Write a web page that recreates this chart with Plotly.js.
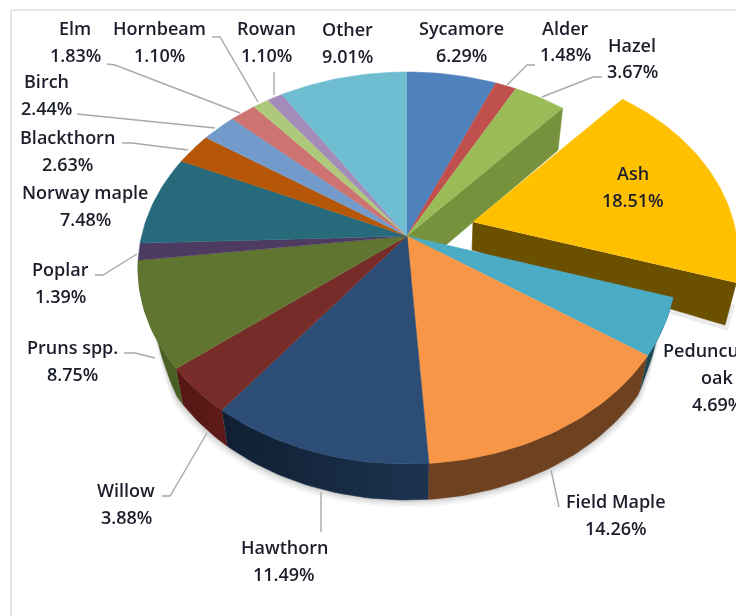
<!DOCTYPE html>
<html>
<head>
<meta charset="utf-8">
<script src="https://cdn.plot.ly/plotly-3.0.1.min.js"></script>
<style>
html,body{margin:0;padding:0;background:#fff;overflow:hidden}
#chart{width:736px;height:616px;filter:blur(0.45px)}
</style>
</head>
<body>
<div id="chart"></div>
<script>
// ---- data (clockwise from 12 o'clock) ----
const species = ["Sycamore","Alder","Hazel","Ash","Pedunculate oak","Field Maple","Hawthorn","Willow","Pruns spp.","Poplar","Norway maple","Blackthorn","Birch","Elm","Hornbeam","Rowan","Other"];
const shares  = [6.29,1.48,3.67,18.51,4.69,14.26,11.49,3.88,8.75,1.39,7.48,2.63,2.44,1.83,1.10,1.10,9.01];
const colors  = ["#4f81bd","#c0504d","#9bbb59","#ffc000","#4bacc6","#f79646","#2c4d75","#772c2a","#5f7530","#4d3b62","#276a7c","#b65708","#729aca","#cd7371","#afc97a","#a48cba","#6fbdd1"];
const rimFrom = {"Pedunculate oak":"#23596a","Field Maple":"#6e4220","Hawthorn":"#1c3350","Willow":"#5e1b19","Pruns spp.":"#4a5f24"};
const rimTo   = {"Pedunculate oak":"#173f4c","Field Maple":"#6e4220","Hawthorn":"#101f31","Willow":"#541614","Pruns spp.":"#4a5f24"};

// ---- presentation: label lines and leader routes (pixels on the 736x616 axes) ----
const labelLines = {
  "Sycamore":[461,[28,55]],"Alder":[565,[28,54]],"Hazel":[632,[45,71]],"Ash":[633,[173,200]],
  "Pedunculate oak":[717,[350,377,404]],"Field Maple":[616,[501,528]],"Hawthorn":[284,[547,574]],
  "Willow":[126,[490,517]],"Pruns spp.":[72,[347,374]],"Poplar":[60,[269,296]],
  "Norway maple":[85,[192,219]],"Blackthorn":[67,[137,164]],"Birch":[46,[81,108]],
  "Elm":[75,[28,55]],"Hornbeam":[159,[28,55]],"Rowan":[266,[28,55]],"Other":[347,[29,56]]
};
const leaders = [
  [[107,115,240],[64,65,113]],[[212,220,258],[37,37,102]],[[274,274],[72,95]],[[77,215],[114,128]],
  [[122,132,188],[143,143,150]],[[95,103,137],[275,275,254]],[[124,135,155],[353,353,358]],
  [[162,170,207],[496,496,433]],[[321,321],[492,532]],[[559,551],[507,470]],
  [[535,527,507],[65,65,85]],[[602,593,542],[77,77,97]]
];

// ---- projection of the tilted disc ----
const apex = {x:407,y:236}, ell = {cy:268,rx:269,ry:196};
const d = (ell.cy-apex.y)/ell.ry, k = Math.sqrt(1-d*d);
function rimPoint(pct){
  const t = pct/100*2*Math.PI, u = Math.sin(t), v = Math.cos(t), w = 1+d*v;
  return {x:apex.x+ell.rx*u*k/w, y:ell.cy-ell.ry*(v+d)/w};
}
function lower(p,scale,depth,cx){return {x:cx+(p.x-cx)*scale,y:p.y+depth};}
function arc(a,b){
  const n = Math.max(2,Math.ceil((b-a)*3)), out=[];
  for(let i=0;i<=n;i++) out.push(rimPoint(a+(b-a)*i/n));
  return out;
}
function poly(pts,fill,name,extra){
  return Object.assign({type:"scatter",mode:"lines",x:pts.map(p=>p.x),y:pts.map(p=>p.y),
    fill:"toself",fillcolor:fill,line:{width:0.6,color:fill},hoverinfo:"name",name:name,showlegend:false},extra||{});
}
const starts=[]; shares.reduce((s,v,i)=>{starts[i]=s;return s+v;},0);
const total = shares.reduce((a,b)=>a+b,0);
const asPct = i=>[starts[i]/total*100,(starts[i]+shares[i])/total*100];

const traces=[];
const depth=36, shrink=0.97;
// the wall only shows fully on the near side of the disc
const wall = p => depth*Math.max(0,Math.min(1,(p.y-300)/60));
const lowerRim = p => lower(p,shrink,wall(p),apex.x);

// soft shadow below the front rim
[[7,0.05],[5,0.06],[3,0.07],[1.5,0.08]].forEach(([g,al])=>{
  const [a]=asPct(4), [,b]=asPct(8);
  const outer=arc(a,b).map(p=>{const q=lowerRim(p);const w=wall(p)/depth;return {x:q.x+(q.x>apex.x?g*0.5:-g*0.5)*w,y:q.y+g*w};});
  const inner=arc(a,b).reverse();
  traces.push(poly(outer.concat(inner),"rgba(60,60,60,"+al+")","shadow",{line:{width:0}}));
});

// cut face of Hazel
{
  const i=species.indexOf("Hazel"), end=rimPoint(asPct(i)[1]);
  const low=lower(end,shrink,depth+6,apex.x);
  traces.push(poly([apex,end,low,{x:apex.x,y:apex.y+depth+6}],"#76923c","Hazel side"));
}

// Ash: pulled-out slice with its cut face
{
  const i=species.indexOf("Ash"), [a,b]=asPct(i);
  const ap={x:473,y:222};
  const n=Math.ceil((b-a)*3), ashArc=[];
  for(let j=0;j<=n;j++){
    const f=j/n, p=rimPoint(a+(b-a)*f), s=0.96+0.03*f;
    ashArc.push({x:ap.x+(p.x+66-ap.x)*s,y:ap.y+(p.y-14-ap.y)*s});
  }
  const endTop=ashArc[n];
  const endLow={x:725,y:325};
  traces.push(poly([{x:ap.x+3,y:ap.y+34},{x:endLow.x+3,y:endLow.y+6},{x:endLow.x+10,y:endLow.y-20},{x:ap.x+3,y:ap.y+4}],"rgba(60,60,60,0.10)","shadow",{line:{width:0}}));
  traces.push(poly([ap,{x:ap.x-1,y:ap.y+28},endLow,endTop],"#6b5000","Ash side"));
  traces.push(poly([ap].concat(ashArc),colors[i],species[i]));
}

// front rim
["Pedunculate oak","Field Maple","Hawthorn","Willow","Pruns spp."].forEach(n=>{
  const i=species.indexOf(n), [a,b]=asPct(i), top=arc(a,b);
  const low=top.map(lowerRim).reverse();
  traces.push(poly(top.concat(low),rimFrom[n],n+" side",{
    fillgradient:{type:"horizontal",colorscale:[[0,rimTo[n]],[1,rimFrom[n]]]}
  }));
});

// top faces
species.forEach((n,i)=>{
  if(n==="Ash") return;
  const [a,b]=asPct(i);
  traces.push(poly([apex].concat(arc(a,b)),colors[i],n));
});

// leader lines
leaders.forEach(l=>traces.push({type:"scatter",mode:"lines",x:l[0],y:l[1],
  line:{color:"#a9a9a9",width:1.4},hoverinfo:"skip",showlegend:false}));

// labels
const annotations=[];
const fontDef={family:"Open Sans, Noto Sans, sans-serif",size:18,color:"#1c1f2b",weight:600};
species.forEach((n,i)=>{
  const [x,ys]=labelLines[n];
  const pct=shares[i].toFixed(2)+"%";
  const lines = n==="Pedunculate oak" ? ["Pedunculate","oak",pct] : [n,pct];
  lines.forEach((t,j)=>annotations.push({x:x,y:ys[j],xref:"x",yref:"y",text:t,showarrow:false,
    xanchor:"center",yanchor:"middle",font:fontDef}));
});

const layout={
  width:736,height:616,margin:{l:0,r:0,t:0,b:0},paper_bgcolor:"#fff",plot_bgcolor:"#fff",showlegend:false,
  xaxis:{range:[0,736],visible:false,fixedrange:true},
  yaxis:{range:[616,0],visible:false,fixedrange:true},
  annotations:annotations,
  shapes:[
    {type:"line",xref:"x",yref:"y",x0:11,x1:736,y0:10,y1:10,line:{color:"#e6e6e6",width:2}},
    {type:"line",xref:"x",yref:"y",x0:11,x1:11,y0:10,y1:616,line:{color:"#e6e6e6",width:2}}
  ]
};
Plotly.newPlot("chart",traces,layout,{displayModeBar:false,responsive:false});
</script>
</body>
</html>
